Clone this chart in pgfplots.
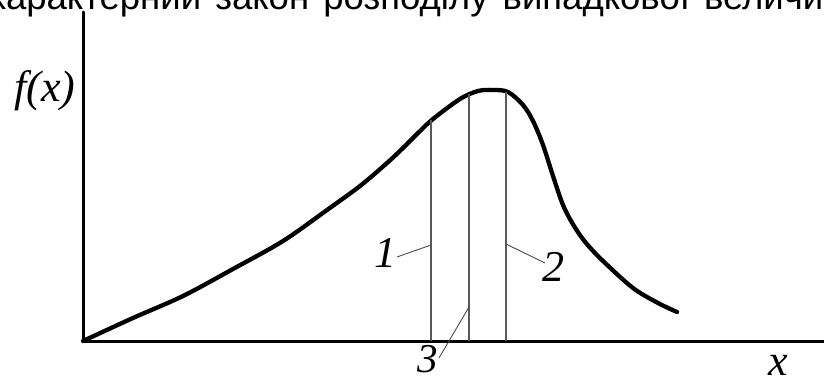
\documentclass[border=0pt]{standalone}
\usepackage{pgfplots}
\pgfplotsset{compat=1.18}
\usepackage{fontspec}
\setmainfont{Liberation Serif}
\newfontfamily\titlefont[WordSpace=1.4]{Liberation Sans}

% density curve f(x), coordinates relative to the origin of the drawn axes
\begin{document}
\begin{tikzpicture}[x=1pt,y=1pt]
\useasboundingbox (0,0) rectangle (824,383);
\begin{axis}[
  at={(0,0)}, anchor=south west,
  width=824pt, height=383pt, scale only axis,
  xmin=-83, xmax=741, ymin=-42, ymax=341,
  hide axis, clip=false,
]
% axes
\draw[line width=3pt, line cap=round, line join=miter] (axis cs:0,329) -- (axis cs:0,0) -- (axis cs:741,0);
% the curve
\addplot[line width=4.3pt, smooth, tension=0.55, line cap=round] coordinates {
  (0,0) (50,23) (100,45) (150,72) (200,100) (244,131) (277,155) (304,178)
  (320,193) (334,207) (350,222) (377,242) (395,250) (410,251) (425,249)
  (440,236) (450,220) (460,196) (470,165) (480,136) (491,115) (503,98)
  (520,80) (550,53) (575,38) (594,29)
};
% ordinates 1, 3, 2
\addplot[line width=1.2pt, black!65] coordinates {(348,0) (348,221)};
\addplot[line width=1.2pt, black!65] coordinates {(386,0) (386,247)};
\addplot[line width=1.2pt, black!65] coordinates {(423,0) (423,249)};
% leaders
\draw[line width=0.9pt, black!70] (axis cs:314,84) -- (axis cs:348,96);
\draw[line width=0.9pt, black!70] (axis cs:423,97) -- (axis cs:462,78);
\draw[line width=0.9pt, black!70] (axis cs:386,34) -- (axis cs:356,-17);
% labels
\node[font=\fontsize{44}{44}\selectfont\itshape] at (axis cs:-38,250) {f(x)};
\node[font=\fontsize{44}{44}\selectfont\itshape] at (axis cs:302,88) {1};
\node[font=\fontsize{44}{44}\selectfont\itshape] at (axis cs:470,74) {2};
\node[font=\fontsize{41}{41}\selectfont\itshape] at (axis cs:345,-18) {3};
\node[font=\fontsize{44}{44}\selectfont\itshape] at (axis cs:695,-24) {x};
\end{axis}
\begin{scope}
\clip (0,0) rectangle (824,383);
\node[anchor=base west, inner sep=0pt, font=\titlefont\fontsize{36.5}{36.5}\selectfont] at (-12,373) {характерний закон розподілу випадкової величини};
\end{scope}
\end{tikzpicture}
\end{document}
